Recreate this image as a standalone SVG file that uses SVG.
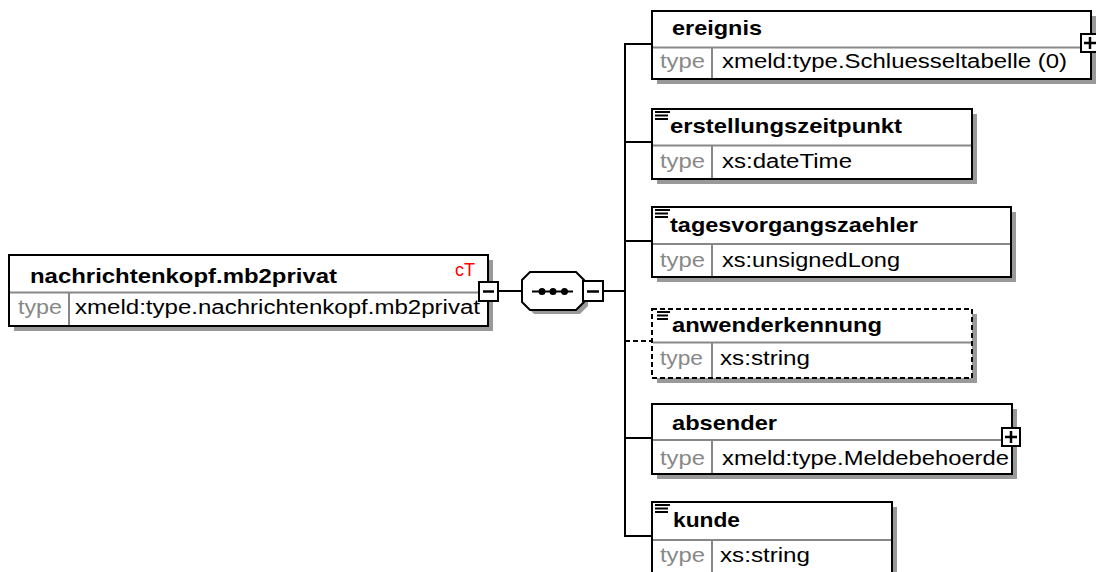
<svg xmlns="http://www.w3.org/2000/svg" width="1096" height="572" viewBox="0 0 1096 572">
<style>
.box{fill:#fff;stroke:#000;stroke-width:2}
.dash{fill:#fff;stroke:#000;stroke-width:2;stroke-dasharray:5,3}
.sh{fill:#999}
.div{stroke:#888;stroke-width:2;fill:none}
.ln{stroke:#000;stroke-width:2;fill:none}
.pm{stroke:#000;stroke-width:2.5;fill:none}
.hd{font-family:"Liberation Sans",Arial,sans-serif;font-weight:bold;font-size:20.5px;fill:#000}
.ty{font-family:"Liberation Sans",Arial,sans-serif;font-size:19.5px;fill:#888}
.val{font-family:"Liberation Sans",Arial,sans-serif;font-size:19.5px;fill:#000}
.ct{font-family:"Liberation Sans",Arial,sans-serif;font-size:18px;fill:#f00}
.ic{stroke:#000;stroke-width:2}
</style>
<rect width="1096" height="572" fill="#fff"/>
<g id="connectors">
<line class="ln" x1="498" y1="291" x2="522" y2="291"/>
<line class="ln" x1="603" y1="291" x2="625" y2="291"/>
<line class="ln" x1="625" y1="43" x2="625" y2="537"/>
<line class="ln" x1="625" y1="44" x2="652" y2="44"/>
<line class="ln" x1="625" y1="142" x2="652" y2="142"/>
<line class="ln" x1="625" y1="241" x2="652" y2="241"/>
<line class="ln" x1="625" y1="341" x2="652" y2="341" stroke-dasharray="5,3"/>
<line class="ln" x1="625" y1="438" x2="652" y2="438"/>
<line class="ln" x1="625" y1="536" x2="652" y2="536"/>
</g>
<g id="main">
<rect class="sh" x="14" y="260" width="479" height="71"/>
<rect class="box" x="9" y="255" width="479" height="71"/>
<line class="div" x1="10" y1="292.5" x2="487" y2="292.5"/>
<line class="div" x1="69" y1="293" x2="69" y2="325"/>
<text class="hd" x="30" y="283" textLength="307" lengthAdjust="spacingAndGlyphs">nachrichtenkopf.mb2privat</text>
<text class="ct" x="455" y="276" textLength="20" lengthAdjust="spacingAndGlyphs">cT</text>
<text class="ty" x="18" y="314" textLength="44" lengthAdjust="spacingAndGlyphs">type</text>
<text class="val" x="75" y="314" textLength="405" lengthAdjust="spacingAndGlyphs">xmeld:type.nachrichtenkopf.mb2privat</text>
<rect class="box" x="479" y="282" width="19" height="19"/>
<line class="pm" x1="483" y1="291.5" x2="494" y2="291.5"/>
</g>
<g id="sequence">
<polygon class="sh" points="534,276 580,276 588,284 588,306 580,314 534,314 526,306 526,284"/>
<polygon class="box" points="530,272 576,272 584,280 584,302 576,310 530,310 522,302 522,280"/>
<line class="ln" x1="532" y1="291.5" x2="573" y2="291.5"/>
<circle cx="542" cy="291.5" r="3.5"/>
<circle cx="553" cy="291.5" r="3.5"/>
<circle cx="564.5" cy="291.5" r="3.5"/>
<rect class="box" x="583" y="281" width="20" height="20"/>
<line class="pm" x1="587" y1="291.5" x2="599" y2="291.5"/>
</g>
<g id="ereignis">
<rect class="sh" x="657" y="16" width="439" height="68"/>
<rect class="box" x="652" y="11" width="439" height="68"/>
<line class="div" x1="653" y1="47.5" x2="1090" y2="47.5"/>
<line class="div" x1="712" y1="48" x2="712" y2="78"/>
<text class="hd" x="672" y="35" textLength="90" lengthAdjust="spacingAndGlyphs">ereignis</text>
<text class="ty" x="660" y="68" textLength="45" lengthAdjust="spacingAndGlyphs">type</text>
<text class="val" x="722" y="68" textLength="345" lengthAdjust="spacingAndGlyphs">xmeld:type.Schluesseltabelle (0)</text>
<rect class="box" x="1081" y="34" width="18" height="18"/>
<line class="pm" x1="1084" y1="43" x2="1096" y2="43"/>
<line class="pm" x1="1090" y1="37" x2="1090" y2="49"/>
</g>
<g id="erstellungszeitpunkt">
<rect class="sh" x="657" y="114" width="320" height="70"/>
<rect class="box" x="652" y="109" width="320" height="70"/>
<line class="div" x1="653" y1="145.5" x2="971" y2="145.5"/>
<line class="div" x1="712" y1="146" x2="712" y2="178"/>
<line class="ic" x1="655" y1="112" x2="670" y2="112"/>
<line class="ic" x1="655" y1="115.5" x2="668" y2="115.5"/>
<line class="ic" x1="655" y1="119" x2="668" y2="119"/>
<text class="hd" x="670" y="133" textLength="232" lengthAdjust="spacingAndGlyphs">erstellungszeitpunkt</text>
<text class="ty" x="660" y="168" textLength="45" lengthAdjust="spacingAndGlyphs">type</text>
<text class="val" x="722" y="168" textLength="130" lengthAdjust="spacingAndGlyphs">xs:dateTime</text>
</g>
<g id="tagesvorgangszaehler">
<rect class="sh" x="657" y="212" width="359" height="70"/>
<rect class="box" x="652" y="207" width="359" height="70"/>
<line class="div" x1="653" y1="244" x2="1010" y2="244"/>
<line class="div" x1="712" y1="245" x2="712" y2="276"/>
<line class="ic" x1="655" y1="210" x2="670" y2="210"/>
<line class="ic" x1="655" y1="213.5" x2="668" y2="213.5"/>
<line class="ic" x1="655" y1="217" x2="668" y2="217"/>
<text class="hd" x="670" y="232" textLength="248" lengthAdjust="spacingAndGlyphs">tagesvorgangszaehler</text>
<text class="ty" x="660" y="267" textLength="45" lengthAdjust="spacingAndGlyphs">type</text>
<text class="val" x="722" y="267" textLength="178" lengthAdjust="spacingAndGlyphs">xs:unsignedLong</text>
</g>
<g id="anwenderkennung">
<rect class="sh" x="657" y="314" width="320" height="69"/>
<rect class="dash" x="652" y="309" width="320" height="69"/>
<line class="div" x1="653" y1="342.5" x2="971" y2="342.5"/>
<line class="div" x1="712" y1="343" x2="712" y2="377"/>
<line class="ic" x1="657" y1="312" x2="670" y2="312"/>
<line class="ic" x1="657" y1="315.5" x2="668" y2="315.5"/>
<line class="ic" x1="657" y1="319" x2="668" y2="319"/>
<text class="hd" x="672" y="332" textLength="210" lengthAdjust="spacingAndGlyphs">anwenderkennung</text>
<text class="ty" x="660" y="365" textLength="43" lengthAdjust="spacingAndGlyphs">type</text>
<text class="val" x="720" y="365" textLength="90" lengthAdjust="spacingAndGlyphs">xs:string</text>
</g>
<g id="absender">
<rect class="sh" x="657" y="409" width="360" height="70"/>
<rect class="box" x="652" y="404" width="360" height="70"/>
<line class="div" x1="653" y1="440" x2="1011" y2="440"/>
<line class="div" x1="712" y1="441" x2="712" y2="473"/>
<text class="hd" x="672" y="430" textLength="105" lengthAdjust="spacingAndGlyphs">absender</text>
<text class="ty" x="660" y="465" textLength="45" lengthAdjust="spacingAndGlyphs">type</text>
<text class="val" x="722" y="465" textLength="287" lengthAdjust="spacingAndGlyphs">xmeld:type.Meldebehoerde</text>
<rect class="box" x="1002" y="428" width="18" height="18"/>
<line class="pm" x1="1005" y1="437" x2="1017" y2="437"/>
<line class="pm" x1="1011" y1="431" x2="1011" y2="443"/>
</g>
<g id="kunde">
<rect class="sh" x="657" y="507" width="240" height="80"/>
<rect class="box" x="652" y="502" width="240" height="80"/>
<line class="div" x1="653" y1="540" x2="891" y2="540"/>
<line class="div" x1="712" y1="541" x2="712" y2="581"/>
<line class="ic" x1="655" y1="505" x2="670" y2="505"/>
<line class="ic" x1="655" y1="508.5" x2="668" y2="508.5"/>
<line class="ic" x1="655" y1="512" x2="668" y2="512"/>
<text class="hd" x="673" y="527" textLength="67" lengthAdjust="spacingAndGlyphs">kunde</text>
<text class="ty" x="660" y="562" textLength="45" lengthAdjust="spacingAndGlyphs">type</text>
<text class="val" x="720" y="562" textLength="90" lengthAdjust="spacingAndGlyphs">xs:string</text>
</g>
</svg>
